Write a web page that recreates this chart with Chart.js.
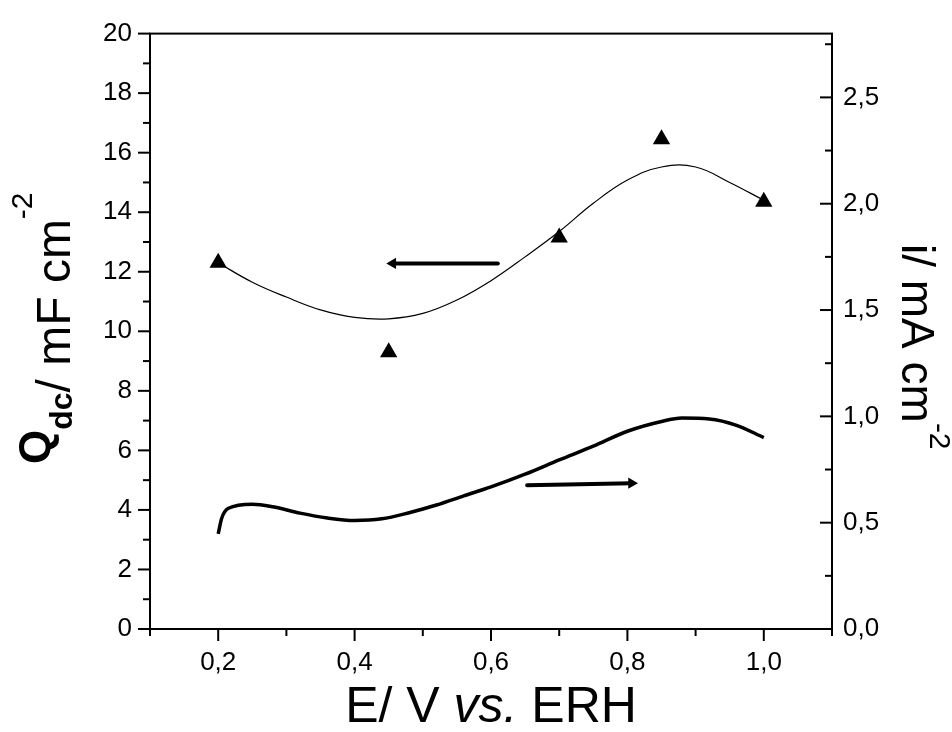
<!DOCTYPE html>
<html lang="en">
<head>
<meta charset="UTF-8">
<title>Qdc and current density vs. potential</title>
<style>
  body { margin: 0; background: #fff; }
  #wrap { width: 952px; height: 732px; }
</style>
</head>
<body>
<div id="wrap"><canvas id="chart" width="952" height="732"></canvas></div>

<script src="https://cdn.jsdelivr.net/npm/chart.js"></script>
<script>
  // measured Qdc points (triangles), left axis
  const potE = [0.2, 0.45, 0.7, 0.85, 1.0];
  const qdc = [12.3, 9.3, 13.15, 16.45, 14.35];

  // fitted curve through the Qdc points
  const fitE = [0.2, 0.25, 0.3, 0.35, 0.4, 0.45, 0.5, 0.55, 0.6, 0.65, 0.7, 0.75, 0.8, 0.85, 0.9, 0.95, 1.0];
  const fitQ = [12.3, 11.65, 11.15, 10.72, 10.47, 10.42, 10.6, 11.05, 11.7, 12.5, 13.35, 14.3, 15.08, 15.52, 15.52, 15.0, 14.4];

  // current density trace, right axis (mA cm-2)
  const curE = [0.2, 0.205, 0.215, 0.25, 0.28, 0.32, 0.36, 0.4, 0.44, 0.48, 0.52, 0.56, 0.6, 0.65, 0.7, 0.75, 0.8, 0.85, 0.88, 0.92, 0.96, 1.0];
  const curI = [0.447, 0.52, 0.568, 0.587, 0.575, 0.545, 0.522, 0.51, 0.518, 0.547, 0.583, 0.626, 0.668, 0.728, 0.795, 0.86, 0.93, 0.976, 0.992, 0.988, 0.958, 0.90];

  // arrows pointing to the axis each series belongs to (tail, head)
  const arrowLeftE = [0.61, 0.456];
  const arrowLeftQ = [12.28, 12.28];
  const arrowRightE = [0.653, 0.806];
  const arrowRightQ = [4.83, 4.9];

  // ticks
  const xTicks = [0.2, 0.4, 0.6, 0.8, 1.0];
  const xMinor = [0.1, 0.3, 0.5, 0.7, 0.9, 1.1];
  const qTicks = [0, 2, 4, 6, 8, 10, 12, 14, 16, 18, 20];
  const qMinor = [1, 3, 5, 7, 9, 11, 13, 15, 17, 19];
  const iTicks = [0, 0.5, 1.0, 1.5, 2.0, 2.5];
  const iMinor = [0.25, 0.75, 1.25, 1.75, 2.25, 2.75];

  const FONT = '"Liberation Sans", Arial, Helvetica, sans-serif';
  const comma = v => v.toFixed(1).replace('.', ',');
  const pts = (xs, ys) => xs.map((x, i) => ({ x: x, y: ys[i] }));

  // box, minor/major ticks and axis titles
  const framePlugin = {
    id: 'frame',
    afterDraw(chart) {
      const { ctx, chartArea: a, scales } = chart;
      ctx.save();
      ctx.strokeStyle = '#000';
      ctx.lineWidth = 2;
      ctx.strokeRect(a.left, a.top, a.right - a.left, a.bottom - a.top);

      function seg(x1, y1, x2, y2) {
        ctx.beginPath(); ctx.moveTo(x1, y1); ctx.lineTo(x2, y2); ctx.stroke();
      }
      xTicks.forEach(v => { const x = scales.x.getPixelForValue(v); seg(x, a.bottom, x, a.bottom + 12); });
      xMinor.forEach(v => { const x = scales.x.getPixelForValue(v); seg(x, a.bottom, x, a.bottom + 7); });
      qTicks.forEach(v => { const y = scales.y.getPixelForValue(v); seg(a.left - 12, y, a.left, y); });
      qMinor.forEach(v => { const y = scales.y.getPixelForValue(v); seg(a.left - 7, y, a.left, y); });
      iTicks.forEach(v => { const y = scales.y2.getPixelForValue(v); seg(a.right - 12, y, a.right, y); });
      iMinor.forEach(v => { const y = scales.y2.getPixelForValue(v); seg(a.right - 7, y, a.right, y); });

      ctx.fillStyle = '#000';
      ctx.textBaseline = 'alphabetic';
      ctx.textAlign = 'left';

      // x title: E/ V vs. ERH (vs. in italics)
      const parts = [['E/ V ', 'normal'], ['vs.', 'italic'], [' ERH', 'normal']];
      let total = 0;
      parts.forEach(p => { ctx.font = p[1] + ' 50px ' + FONT; total += ctx.measureText(p[0]).width; });
      let px = (a.left + a.right) / 2 - total / 2;
      parts.forEach(p => {
        ctx.font = p[1] + ' 50px ' + FONT;
        ctx.fillText(p[0], px, 722);
        px += ctx.measureText(p[0]).width;
      });

      // left title: Qdc/ mF cm-2, reading upwards
      ctx.save();
      ctx.translate(70, 464);
      ctx.rotate(-Math.PI / 2);
      let pos = 0;
      ctx.font = 'bold 44px ' + FONT;
      ctx.fillText('Q', pos, -20);
      pos += ctx.measureText('Q').width;
      ctx.font = 'bold 32px ' + FONT;
      ctx.fillText('dc', pos, 2);
      pos += ctx.measureText('dc').width;
      ctx.font = '48px ' + FONT;
      ctx.fillText('/ mF cm', pos, 0);
      pos += ctx.measureText('/ mF cm').width;
      ctx.font = '30px ' + FONT;
      ctx.fillText('-2', pos, -38);
      ctx.restore();

      // right title: i/ mA cm-2, reading downwards
      ctx.save();
      ctx.translate(902, 244);
      ctx.rotate(Math.PI / 2);
      pos = 0;
      ctx.font = '46px ' + FONT;
      ctx.fillText('i/ mA cm', pos, 0);
      pos += ctx.measureText('i/ mA cm').width;
      ctx.font = '30px ' + FONT;
      ctx.fillText('-2', pos, -28);
      ctx.restore();

      ctx.restore();
    }
  };

  const tickFont = { family: FONT, size: 26 };

  new Chart(document.getElementById('chart'), {
    type: 'scatter',
    data: {
      datasets: [
        {
          label: 'Qdc',
          data: pts(potE, qdc),
          yAxisID: 'y',
          pointStyle: 'triangle',
          pointRadius: 10,
          pointBackgroundColor: '#000',
          pointBorderColor: '#000',
          pointBorderWidth: 0,
          showLine: false
        },
        {
          label: 'Qdc fit',
          data: pts(fitE, fitQ),
          yAxisID: 'y',
          showLine: true,
          borderColor: '#000',
          borderWidth: 1.2,
          pointRadius: 0,
          tension: 0.4
        },
        {
          label: 'i',
          data: pts(curE, curI),
          yAxisID: 'y2',
          showLine: true,
          borderColor: '#000',
          borderWidth: 3.5,
          pointRadius: 0,
          cubicInterpolationMode: 'monotone'
        },
        {
          label: 'arrow left',
          data: pts(arrowLeftE, arrowLeftQ),
          yAxisID: 'y',
          showLine: true,
          borderColor: '#000',
          borderWidth: 4,
          borderCapStyle: 'round',
          pointStyle: 'triangle',
          pointRadius: [0, 6.5],
          pointRotation: -90,
          pointBackgroundColor: '#000',
          pointBorderWidth: 0
        },
        {
          label: 'arrow right',
          data: pts(arrowRightE, arrowRightQ),
          yAxisID: 'y',
          showLine: true,
          borderColor: '#000',
          borderWidth: 4,
          borderCapStyle: 'round',
          pointStyle: 'triangle',
          pointRadius: [0, 6.5],
          pointRotation: 90,
          pointBackgroundColor: '#000',
          pointBorderWidth: 0
        }
      ]
    },
    options: {
      responsive: false,
      animation: false,
      devicePixelRatio: 1,
      layout: { padding: { top: 26, left: 0, right: 0, bottom: 0 } },
      plugins: { legend: { display: false }, tooltip: { enabled: false } },
      scales: {
        x: {
          type: 'linear',
          min: 0.1,
          max: 1.1,
          afterBuildTicks: s => { s.ticks = xTicks.map(v => ({ value: v })); },
          afterFit: s => { s.height = 103; },
          grid: { display: false, drawTicks: false },
          border: { display: false },
          ticks: { color: '#000', font: tickFont, padding: 18, maxRotation: 0, callback: v => comma(v) }
        },
        y: {
          position: 'left',
          min: 0,
          max: 20,
          afterBuildTicks: s => { s.ticks = qTicks.map(v => ({ value: v })); },
          afterFit: s => { s.width = 150; },
          grid: { display: false, drawTicks: false },
          border: { display: false },
          ticks: { color: '#000', font: tickFont, padding: 18, callback: v => String(v) }
        },
        y2: {
          position: 'right',
          min: 0,
          max: 2.8,
          afterBuildTicks: s => { s.ticks = iTicks.map(v => ({ value: v })); },
          afterFit: s => { s.width = 120; },
          grid: { display: false, drawTicks: false },
          border: { display: false },
          ticks: { color: '#000', font: tickFont, padding: 11, callback: v => comma(v) }
        }
      }
    },
    plugins: [framePlugin]
  });
</script>
</body>
</html>
